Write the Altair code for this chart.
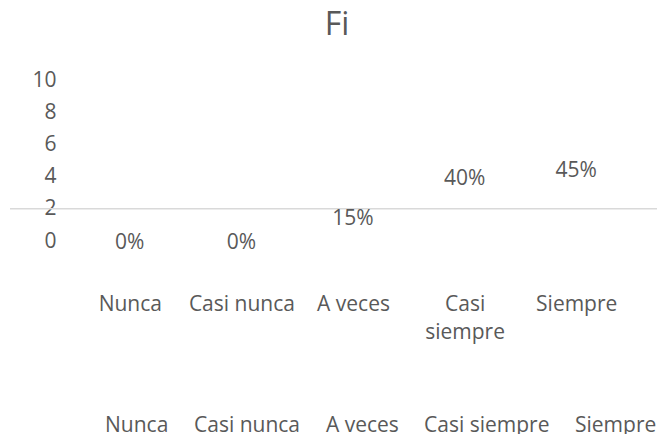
import altair as alt
import pandas as pd

categories = ["Nunca", "Casi nunca", "A veces", "Casi siempre", "Siempre"]
fi = [0, 0, 3, 8, 9]
percent = [0, 0, 15, 40, 45]
y_ticks = [0, 2, 4, 6, 8, 10]

df = pd.DataFrame({"cat": categories, "fi": fi, "pct": percent})
df["label"] = [f"{p}%" for p in percent]

GRAY = "#595959"
FONT = "Open Sans"
FS = 21

x_enc = alt.X(
    "cat:N",
    sort=categories,
    scale=alt.Scale(domain=categories, paddingInner=0, paddingOuter=0),
    axis=alt.Axis(
        title=None, domain=False, ticks=False, labelAngle=0, labelPadding=52,
        labelFontSize=FS, labelColor=GRAY, labelFont=FONT, labelBaseline="top",
        labelLineHeight=28, labelLimit=300,
        labelExpr="datum.label == 'Casi siempre' ? ['Casi', 'siempre'] : datum.label",
    ),
)
y_scale = alt.Scale(domain=[0, 10], nice=False, zero=False)
y_axis = alt.Axis(
    values=y_ticks, title=None, domain=False, ticks=False, grid=False,
    labelOverlap=False, labelPadding=18, labelFontSize=FS, labelColor=GRAY,
    labelFont=FONT,
)

labels = alt.Chart(df).transform_calculate(pos="datum.pct / 10").mark_text(
    fontSize=FS, font=FONT, baseline="middle", dy=2
).encode(
    x=x_enc,
    y=alt.Y("pos:Q", scale=y_scale, axis=y_axis),
    text="label:N",
    color=alt.Color(
        "cat:N",
        scale=alt.Scale(domain=categories, range=[GRAY] * len(categories)),
        legend=alt.Legend(
            title=None, orient="none", legendX=10, legendY=335,
            direction="horizontal", columns=5, symbolSize=0, symbolOpacity=0,
            symbolStrokeWidth=0, labelOffset=0, columnPadding=4,
            labelFontSize=FS, labelFont=FONT, labelColor=GRAY, labelLimit=300,
        ),
    ),
)

rule = alt.Chart(df).transform_aggregate(n="count()").mark_rule(
    color="#d9d9d9", strokeWidth=1.5
).encode(
    y=alt.YDatum(2, scale=y_scale, axis=y_axis),
    x=alt.value(-64),
    x2=alt.value(595),
)

chart = alt.layer(rule, labels).properties(
    width=558,
    height=161,
    autosize=alt.AutoSizeParams(type="none"),
    padding={"left": 66, "top": 72, "right": 25, "bottom": 193},
    title=alt.Title(
        "Fi", fontSize=32, font=FONT, color=GRAY, fontWeight="normal",
        anchor="middle", frame="group", dx=-16, offset=2, baseline="alphabetic",
    ),
    background="white",
).configure_view(stroke=None).configure_axis(labelOverlap=False)

chart.save("out.html", embed_options={"renderer": "svg", "actions": False})
